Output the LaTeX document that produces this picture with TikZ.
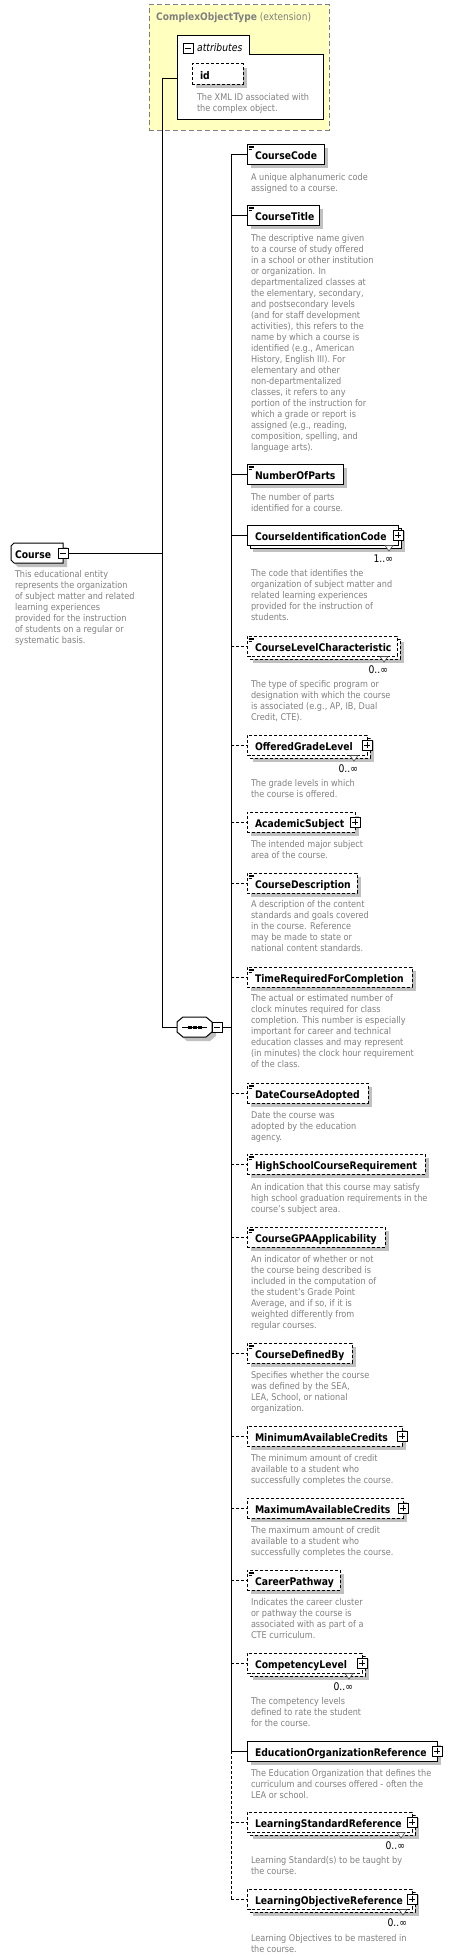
\documentclass[tikz,border=0pt]{standalone}
\usepackage{fontspec}
\setmainfont{DejaVu Sans}[FakeStretch=0.88]
\usetikzlibrary{calc}
\definecolor{shadowc}{RGB}{192,192,192}
\definecolor{descc}{RGB}{128,128,128}
\definecolor{yellowc}{RGB}{255,255,192}
\definecolor{dashgray}{RGB}{128,128,128}
\tikzset{
  conn/.style={line width=1pt, draw=black},
  dashb/.style={dash pattern=on 3pt off 2pt},
  solidb/.style={solid},
  ebox/.style={draw=black, line width=1pt, fill=white, minimum height=20pt, inner sep=0pt, outer sep=0pt},
  ename/.style={font=\fontsize{10.5}{12}\selectfont\bfseries, inner sep=0pt, outer sep=0pt, anchor=base west},
  desc/.style={font=\fontsize{9.25}{11}\selectfont, text=descc, align=left, inner sep=0pt, outer sep=0pt, anchor=north west},
  mult/.style={font=\fontsize{10.5}{12}\selectfont, inner sep=0pt, outer sep=0pt, anchor=base east},
  pmbox/.style={draw=black, fill=white, line width=0.8pt, minimum size=10pt, inner sep=0pt, outer sep=0pt},
  plusbox/.style={pmbox, path picture={\draw[line width=0.8pt] ([xshift=-3pt]path picture bounding box.center) -- ([xshift=3pt]path picture bounding box.center) ([yshift=-3pt]path picture bounding box.center) -- ([yshift=3pt]path picture bounding box.center);}},
  minusbox/.style={pmbox, path picture={\draw[line width=0.8pt] ([xshift=-3pt]path picture bounding box.center) -- ([xshift=3pt]path picture bounding box.center);}},
}
\newcommand{\El}[5]{%
  \fill[shadowc] (251,#4+4) rectangle (#3+4,#4+24);
  \node[ebox,#5,minimum width={(#3-247)*1pt},anchor=north west] (#1) at (247,#4) {};
  \node[ename] (#1t) at (255,#4+15.5) {#2};
}
\newcommand{\ElM}[5]{%
  \fill[shadowc] (253,#4+6) rectangle (#3+7,#4+27);
  \draw[line width=1pt,fill=white,#5] (250,#4+3) rectangle (#3+3,#4+23);
  \node[ebox,#5,minimum width={(#3-247)*1pt},anchor=north west] (#1) at (247,#4) {};
  \node[ename] (#1t) at (255,#4+15.5) {#2};
}
\newcommand{\Icon}[1]{%
  \draw[line width=0.6pt] ($(#1.north west)+(1.5,2)$) -- +(5,0)
    ($(#1.north west)+(1.5,3.7)$) -- +(5,0)
    ($(#1.north west)+(1.5,5.4)$) -- +(3.5,0);
}
\newcommand{\Plus}[1]{\node[plusbox] (#1p) at (#1.east) {};}
\newcommand{\Mult}[4]{%
  \draw[line width=0.6pt, draw=black!70, fill=white] (#2-8,#3+20.5) -- (#2,#3+20.5) -- (#2-4,#3+26) -- cycle;
  \node[mult] (#1m) at (#2,#3+37) {#4};
}
\newcommand{\Desc}[4]{\node[desc] (#1) at (#2,#3-4) {\rule{0pt}{7.5pt}#4};}
\begin{document}
\begin{tikzpicture}[x=1pt,y=-1pt]
\useasboundingbox (0,0) rectangle (465,1959);

% ComplexObjectType extension box
\node[draw=dashgray, dash pattern=on 5pt off 3pt, line width=1pt, fill=yellowc, minimum width=180pt, minimum height=125pt, anchor=north west, inner sep=0pt, outer sep=0pt] (cot) at (149,5) {};
\node[anchor=base west, inner sep=0pt, text=descc, font=\fontsize{10.3}{12}\selectfont] (cottitle) at (156,21) {\textbf{ComplexObjectType} (extension)};

% attributes
\node[inner sep=0pt, outer sep=0pt, minimum width=146pt, minimum height=64pt, anchor=north west] (attr) at (177,55) {};
\draw[line width=1pt, fill=white] (177,36) -- (249,36) -- (249,55) -- (323,55) -- (323,119) -- (177,119) -- cycle;
\node[minusbox] (attrm) at (188,48) {};
\node[anchor=base west, inner sep=0pt, font=\fontsize{10.5}{12}\selectfont\itshape] (attrt) at (197,52) {attributes};
\fill[shadowc] (196,68) rectangle (247,88);
\node[ebox,dashb,minimum width=51pt,anchor=north west] (idb) at (192,64) {};
\node[ename] (idt) at (200,79) {id};
\Desc{iddesc}{197}{97}{The XML ID associated with\\the complex object.}

% Course
\node[inner sep=0pt, outer sep=0pt, minimum width=52pt, minimum height=20pt] (course) at (37,553) {};
\fill[shadowc] ($(course.north west)+(7,4)$) -- ($(course.north east)+(4,4)$) -- ($(course.south east)+(4,4)$) -- ($(course.south west)+(7,4)$) -- ($(course.south west)+(4,1)$) -- ($(course.north west)+(4,7)$) -- cycle;
\draw[line width=1pt, fill=white] ($(course.north west)+(3,0)$) -- (course.north east) -- (course.south east) -- ($(course.south west)+(3,0)$) -- ($(course.south west)+(0,-3)$) -- ($(course.north west)+(0,3)$) -- cycle;
\node[ename] (coursetxt) at (15,558) {Course};
\node[minusbox] (cminus) at (course.east) {};
\Desc{coursedesc}{15}{574}{This educational entity\\represents the organization\\of subject matter and related\\learning experiences\\provided for the instruction\\of students on a regular or\\systematic basis.}

% spine 1
\coordinate (s1top) at (162,78);
\coordinate (s1mid) at (162,553);
\coordinate (s1bot) at (162,1027);
\draw[conn] (s1top) -- (s1bot);
\draw[conn] (s1top) -- (attr.west |- s1top);
\draw[conn] (cminus.east) -- (s1mid);

% sequence
\node[inner sep=0pt, outer sep=0pt, minimum width=35pt, minimum height=20pt] (seq) at (194.5,1027) {};
\fill[shadowc] (187,1021) -- (210,1021) -- (216,1026) -- (216,1036) -- (210,1041) -- (187,1041) -- (181,1036) -- (181,1026) -- cycle;
\draw[line width=1pt, fill=white] (183,1017) -- (206,1017) -- (212,1022) -- (212,1032) -- (206,1037) -- (183,1037) -- (177,1032) -- (177,1022) -- cycle;
\draw[line width=1pt] (182,1027) -- (207,1027);
\fill (188.3,1025.5) rectangle +(3.4,3);
\fill (193.3,1025.5) rectangle +(3.4,3);
\fill (198.3,1025.5) rectangle +(3.4,3);
\node[minusbox] (seqm) at (217,1027) {};
\draw[conn] (s1bot) -- (seq.west);
\coordinate (s2seq) at (231,1027);
\draw[conn] (seqm.east) -- (s2seq);

% spine 2
\coordinate (s2top) at (231,154);
\coordinate (s2mid) at (231,1751);
\coordinate (s2bot) at (231,1899);
\draw[conn] (s2top) -- (s2mid);
\draw[conn,dashb] (s2mid) -- (s2bot);

% elements
\El{e1}{CourseCode}{324}{144}{solidb}\Icon{e1}
\El{e2}{CourseTitle}{319}{205}{solidb}\Icon{e2}
\El{e3}{NumberOfParts}{343}{464}{solidb}\Icon{e3}
\ElM{e4}{CourseIdentificationCode}{398}{525}{solidb}\Plus{e4}\Mult{e4}{393}{525}{1..∞}
\ElM{e5}{CourseLevelCharacteristic}{397}{636}{dashb}\Icon{e5}\Mult{e5}{388}{636}{0..∞}
\ElM{e6}{OfferedGradeLevel}{367}{735}{dashb}\Plus{e6}\Mult{e6}{358}{735}{0..∞}
\El{e7}{AcademicSubject}{355}{812}{dashb}\Plus{e7}
\El{e8}{CourseDescription}{357}{873}{dashb}\Icon{e8}
\El{e9}{TimeRequiredForCompletion}{412}{967}{dashb}\Icon{e9}
\El{e10}{DateCourseAdopted}{368}{1083}{dashb}\Icon{e10}
\El{e11}{HighSchoolCourseRequirement}{425}{1154}{dashb}\Icon{e11}
\El{e12}{CourseGPAApplicability}{385}{1227}{dashb}\Icon{e12}
\El{e13}{CourseDefinedBy}{352}{1343}{dashb}\Icon{e13}
\El{e14}{MinimumAvailableCredits}{402}{1426}{dashb}\Plus{e14}
\El{e15}{MaximumAvailableCredits}{403}{1498}{dashb}\Plus{e15}
\El{e16}{CareerPathway}{340}{1570}{dashb}\Icon{e16}
\ElM{e17}{CompetencyLevel}{362}{1653}{dashb}\Plus{e17}\Mult{e17}{353}{1653}{0..∞}
\El{e18}{EducationOrganizationReference}{437}{1741}{solidb}\Plus{e18}
\ElM{e19}{LearningStandardReference}{412}{1812}{dashb}\Plus{e19}\Mult{e19}{405}{1812}{0..∞}
\ElM{e20}{LearningObjectiveReference}{412}{1889}{dashb}\Plus{e20}\Mult{e20}{407}{1889}{0..∞}

% stubs
\foreach \i in {1,2,3,4,18}{\draw[conn] (s2top |- e\i.west) -- (e\i.west);}
\foreach \i in {5,6,7,8,9,10,11,12,13,14,15,16,17,19,20}{\draw[conn,dashb] (s2top |- e\i.west) -- (e\i.west);}

% descriptions
\Desc{d1}{251}{177}{A unique alphanumeric code\\assigned to a course.}
\Desc{d2}{251}{238}{The descriptive name given\\to a course of study offered\\in a school or other institution\\or organization. In\\departmentalized classes at\\the elementary, secondary,\\and postsecondary levels\\(and for staff development\\activities), this refers to the\\name by which a course is\\identified (e.g., American\\History, English III). For\\elementary and other\\non-departmentalized\\classes, it refers to any\\portion of the instruction for\\which a grade or report is\\assigned (e.g., reading,\\composition, spelling, and\\language arts).}
\Desc{d3}{251}{497}{The number of parts\\identified for a course.}
\Desc{d4}{251}{573}{The code that identifies the\\organization of subject matter and\\related learning experiences\\provided for the instruction of\\students.}
\Desc{d5}{251}{684}{The type of specific program or\\designation with which the course\\is associated (e.g., AP, IB, Dual\\Credit, CTE).}
\Desc{d6}{251}{783}{The grade levels in which\\the course is offered.}
\Desc{d7}{251}{844}{The intended major subject\\area of the course.}
\Desc{d8}{251}{904}{A description of the content\\standards and goals covered\\in the course. Reference\\may be made to state or\\national content standards.}
\Desc{d9}{251}{998}{The actual or estimated number of\\clock minutes required for class\\completion. This number is especially\\important for career and technical\\education classes and may represent\\(in minutes) the clock hour requirement\\of the class.}
\Desc{d10}{251}{1115}{Date the course was\\adopted by the education\\agency.}
\Desc{d11}{251}{1187}{An indication that this course may satisfy\\high school graduation requirements in the\\course's subject area.}
\Desc{d12}{251}{1259}{An indicator of whether or not\\the course being described is\\included in the computation of\\the student's Grade Point\\Average, and if so, if it is\\weighted differently from\\regular courses.}
\Desc{d13}{251}{1375}{Specifies whether the course\\was defined by the SEA,\\LEA, School, or national\\organization.}
\Desc{d14}{251}{1458}{The minimum amount of credit\\available to a student who\\successfully completes the course.}
\Desc{d15}{251}{1530}{The maximum amount of credit\\available to a student who\\successfully completes the course.}
\Desc{d16}{251}{1602}{Indicates the career cluster\\or pathway the course is\\associated with as part of a\\CTE curriculum.}
\Desc{d17}{251}{1701}{The competency levels\\defined to rate the student\\for the course.}
\Desc{d18}{251}{1773}{The Education Organization that defines the\\curriculum and courses offered - often the\\LEA or school.}
\Desc{d19}{251}{1860}{Learning Standard(s) to be taught by\\the course.}
\Desc{d20}{251}{1938}{Learning Objectives to be mastered in\\the course.}
\end{tikzpicture}
\end{document}
